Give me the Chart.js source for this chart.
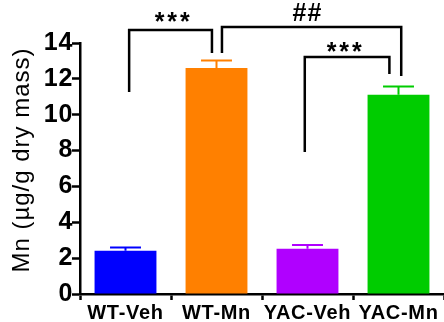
<!DOCTYPE html>
<html>
<head>
<meta charset="utf-8">
<script src="https://cdn.jsdelivr.net/npm/chart.js@4/dist/chart.umd.min.js"></script>
<style>
  html, body { margin: 0; padding: 0; background: #fff; }
  #box { width: 444px; height: 322px; }
</style>
</head>
<body>
<div id="box"><canvas id="mnChart" width="444" height="322"></canvas></div>
<script>
// datos del gráfico
const categories = ['WT-Veh', 'WT-Mn', 'YAC-Veh', 'YAC-Mn'];
const means = [2.41, 12.6, 2.53, 11.12];
const errors = [0.19, 0.42, 0.2, 0.46];
const barColors = ['#0000ff', '#ff8000', '#b000ff', '#00cc00'];
const yTicks = [0, 2, 4, 6, 8, 10, 12, 14];

// comparaciones (etiquetas de significancia)
const sigLabels = ['***', '##', '***'];

// geometría de los corchetes en unidades de datos (índice de categoría, valor y)
const brackets = [
    { x1: 0.04, x2: 0.95, yLeft: 11.27, yTop: 14.72, yRight: 13.44, tx: 0.53, ty: 14.7 },
    { x1: 1.06, x2: 3.03, yLeft: 13.44, yTop: 14.89, yRight: 12.16, tx: 2.0, ty: 15.2 },
    { x1: 1.97, x2: 2.90, yLeft: 7.92, yTop: 13.22, yRight: 12.27, tx: 2.42, ty: 13.05 }
];

const FONT = '"Liberation Sans", Arial, sans-serif';

// un poco de espacio entre letras, como en la figura original
const letterSpace = {
    id: 'letterSpace',
    beforeDraw(chart) { chart.ctx.letterSpacing = '0.7px'; },
    afterDraw(chart) { chart.ctx.letterSpacing = '0px'; }
};

// barras de error (solo la mitad superior)
const errorBars = {
    id: 'errorBars',
    afterDatasetsDraw(chart) {
        const ctx = chart.ctx;
        const y = chart.scales.y;
        chart.getDatasetMeta(0).data.forEach(function(bar, i) {
            const top = y.getPixelForValue(means[i] + errors[i]);
            const half = bar.width / 4;
            ctx.save();
            ctx.strokeStyle = barColors[i];
            ctx.lineWidth = 2;
            ctx.beginPath();
            ctx.moveTo(bar.x, bar.y);
            ctx.lineTo(bar.x, top);
            ctx.moveTo(bar.x - half, top);
            ctx.lineTo(bar.x + half, top);
            ctx.stroke();
            ctx.restore();
        });
    }
};

// corchetes y asteriscos
const sigBrackets = {
    id: 'sigBrackets',
    afterDraw(chart) {
        const ctx = chart.ctx;
        const xs = chart.scales.x;
        const ys = chart.scales.y;
        ctx.save();
        ctx.strokeStyle = '#000';
        ctx.lineWidth = 2.5;
        ctx.lineJoin = 'miter';
        brackets.forEach(function(b, i) {
            const xl = xs.getPixelForValue(b.x1);
            const xr = xs.getPixelForValue(b.x2);
            ctx.beginPath();
            ctx.moveTo(xl, ys.getPixelForValue(b.yLeft));
            ctx.lineTo(xl, ys.getPixelForValue(b.yTop));
            ctx.lineTo(xr, ys.getPixelForValue(b.yTop));
            ctx.lineTo(xr, ys.getPixelForValue(b.yRight));
            ctx.stroke();

            ctx.fillStyle = '#000';
            ctx.font = 'bold 25px ' + FONT;
            ctx.letterSpacing = sigLabels[i] === '***' ? '3px' : '1px';
            ctx.textAlign = 'center';
            ctx.textBaseline = 'alphabetic';
            ctx.fillText(sigLabels[i], xs.getPixelForValue(b.tx), ys.getPixelForValue(b.ty));
        });

        // título del eje y
        ctx.letterSpacing = '1px';
        ctx.font = '24px ' + FONT;
        ctx.textAlign = 'center';
        ctx.textBaseline = 'middle';
        ctx.translate(22, 160);
        ctx.rotate(-Math.PI / 2);
        ctx.fillText('Mn (\u00b5g/g dry mass)', 0, 0);
        ctx.restore();
    }
};

const mnChart = new Chart(document.getElementById('mnChart').getContext('2d'), {
    type: 'bar',
    data: {
        labels: categories,
        datasets: [{
            data: means,
            backgroundColor: barColors,
            borderWidth: 0,
            categoryPercentage: 1,
            barPercentage: 0.68
        }]
    },
    options: {
        responsive: false,
        animation: false,
        devicePixelRatio: 1,
        layout: { padding: { top: 43, right: -6, left: 0, bottom: 0 } },
        plugins: {
            legend: { display: false },
            tooltip: { enabled: false }
        },
        scales: {
            x: {
                afterFit: function(scale) { scale.height = 28; },
                grid: { drawOnChartArea: false, drawTicks: true, tickLength: 6, tickWidth: 2.5, tickColor: '#000' },
                border: { display: true, color: '#000', width: 2.5 },
                ticks: {
                    color: '#000',
                    padding: 1,
                    font: { family: FONT, size: 20, weight: 'bold' }
                }
            },
            y: {
                min: 0,
                max: 14,
                afterFit: function(scale) { scale.width = 80; },
                afterBuildTicks: function(scale) {
                    scale.ticks = yTicks.map(function(v) { return { value: v }; });
                },
                grid: { drawOnChartArea: false, drawTicks: true, tickLength: 8, tickWidth: 2.5, tickColor: '#000' },
                border: { display: true, color: '#000', width: 2.5 },
                ticks: {
                    color: '#000',
                    padding: -1,
                    font: { family: FONT, size: 25, weight: 'bold' }
                }
            }
        }
    },
    plugins: [letterSpace, errorBars, sigBrackets]
});
</script>
</body>
</html>
